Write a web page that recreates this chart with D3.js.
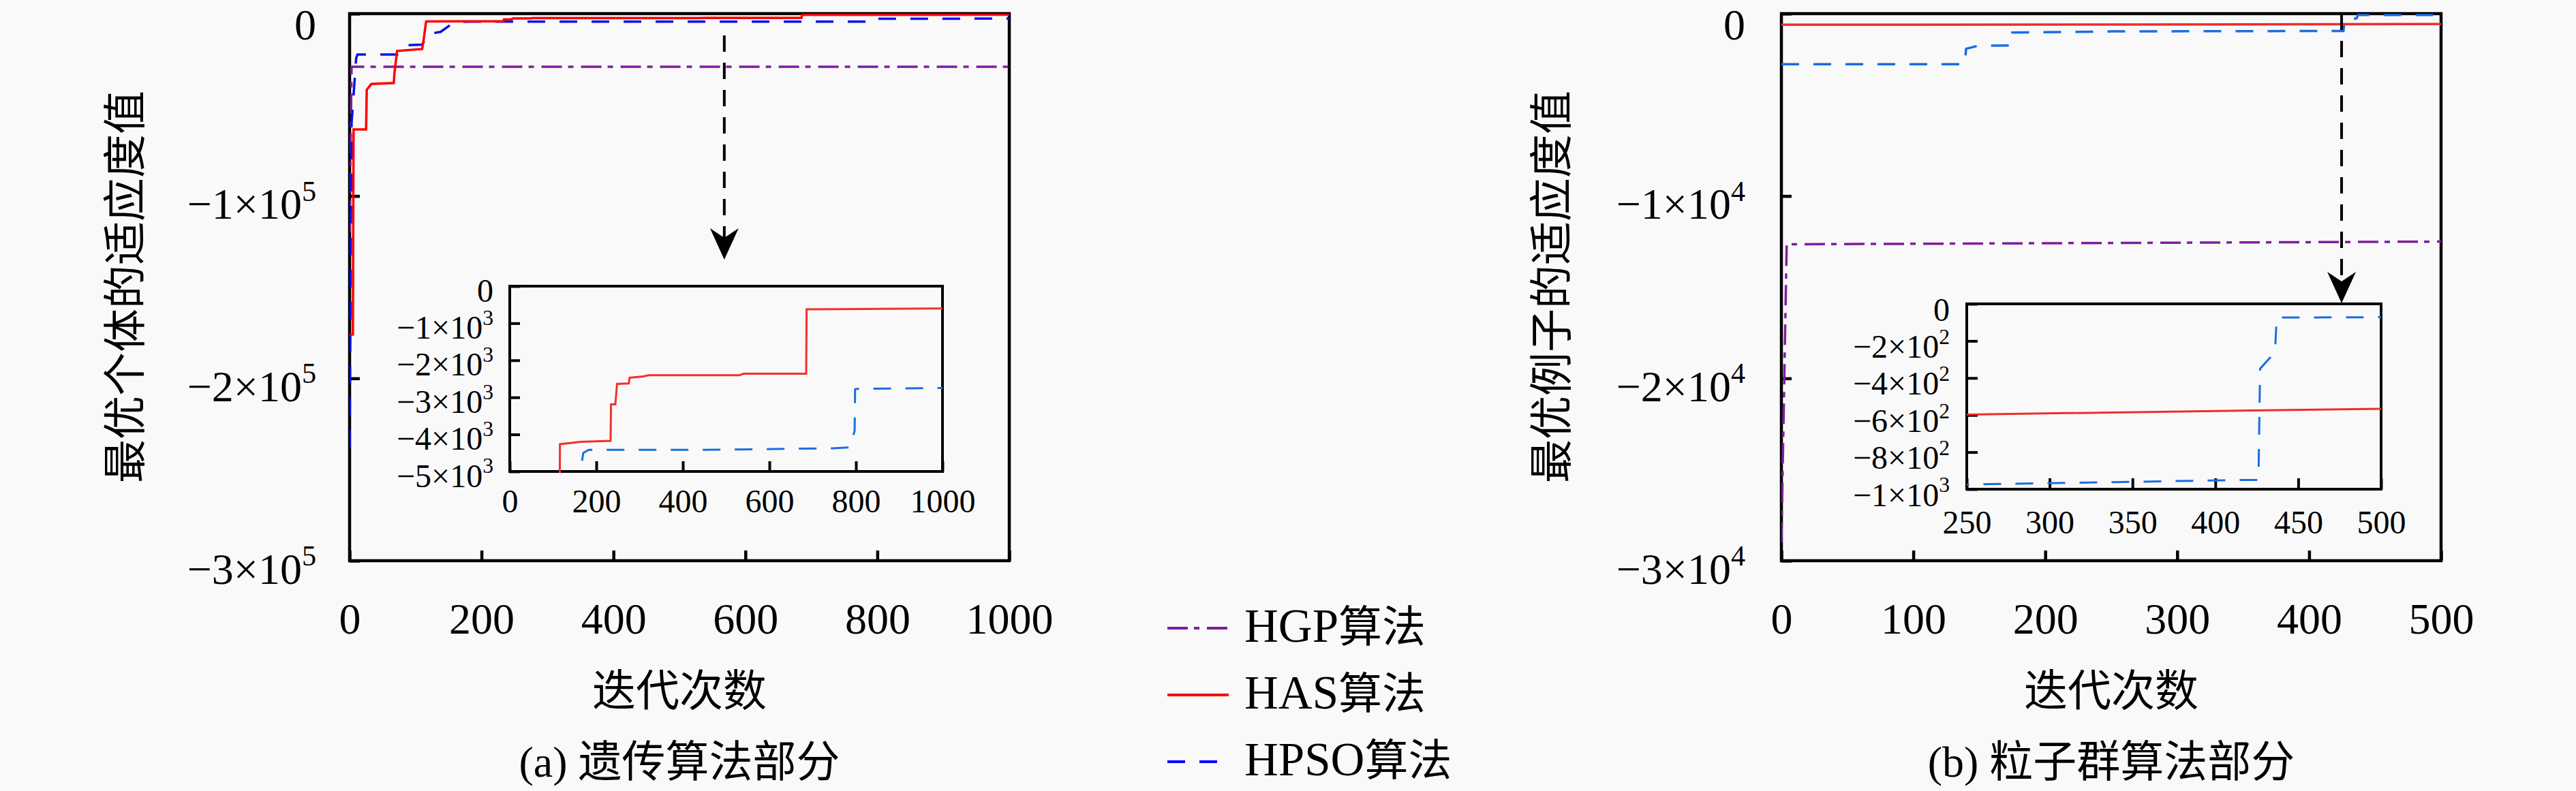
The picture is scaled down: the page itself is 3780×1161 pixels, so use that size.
<!DOCTYPE html>
<html>
<head>
<meta charset="utf-8">
<script src="https://cdn.jsdelivr.net/npm/d3@7"></script>
<style>
body { margin: 0; background: #f9f9f9; }
text { font-family: "Liberation Serif", "Noto Sans CJK SC", serif; fill: #000; }
</style>
</head>
<body>
<svg id="chart" width="3780" height="1161"></svg>
<script>
// ---- data: (a) genetic part, 1000 iterations
const iterHGP_A = [0, 3, 1000]
const fitHGP_A  = [-120000, -29100, -29100]
const iterHAS_A = [0, 5, 6, 25, 26, 33, 67, 68, 72, 110, 112, 116, 164, 233, 234, 244, 248, 275, 277, 309, 320, 530, 540, 685, 686, 863, 1000]
const fitHAS_A  = [-176000, -176000, -63500, -63500, -41700, -38600, -38000, -32500, -20500, -19400, -14900, -4264, -4202, -4172, -3190, -3190, -2638, -2625, -2472, -2436, -2405, -2405, -2362, -2362, -626, -613, -600]
const iterHPSO_A = [0, 3, 10, 12, 73, 88, 110, 119, 138, 155, 170, 183, 443, 748, 786, 797, 798, 800, 1000]
const fitHPSO_A  = [-238000, -60000, -24300, -22400, -22400, -17300, -17000, -11200, -10000, -5600, -4500, -4417, -4417, -4374, -4350, -3900, -2791, -2773, -2748]

// ---- data: (b) particle swarm part, 500 iterations
const iterHGP_B = [0, 4, 500]
const fitHGP_B  = [-29000, -12650, -12500]
const iterHAS_B = [0, 250, 500]
const fitHAS_B  = [-610, -597, -566]
const iterHPSO_B = [0, 139, 140, 149, 174, 175, 250, 418, 426, 427, 436, 437, 500]
const fitHPSO_B  = [-2776, -2776, -1930, -1760, -1745, -1035, -975, -950, -950, -350, -260, -74, -72]

// ---- ticks and labels
const xTicksA = [0, 200, 400, 600, 800, 1000]
const yTicksA = [0, -100000, -200000, -300000]
const xTicksInA = [0, 200, 400, 600, 800, 1000]
const yTicksInA = [0, -1000, -2000, -3000, -4000, -5000]
const xTicksB = [0, 100, 200, 300, 400, 500]
const yTicksB = [0, -10000, -20000, -30000]
const xTicksInB = [250, 300, 350, 400, 450, 500]
const yTicksInB = [0, -200, -400, -600, -800, -1000]

const seriesNames = ["HGP算法", "HAS算法", "HPSO算法"]
const xTitle = "迭代次数"
const yTitleA = "最优个体的适应度值"
const yTitleB = "最优例子的适应度值"
const captionA = "(a) 遗传算法部分"
const captionB = "(b) 粒子群算法部分"

// styles
const PURPLE = "#7e1e9c"
const DASHDOT = "30,9,8,11"
const DASH = "26,21"

const svg = d3.select("#chart")
const defs = svg.append("defs")
let clipId = 0

function expLabels(g, fs, zeroDy) {
    g.selectAll(".tick text").each(function(d) {
        const t = d3.select(this).text("")
        if (d === 0) {
            t.text("0")
            if (zeroDy != null) t.attr("dy", zeroDy + "em")
            return
        }
        const e = Math.floor(Math.log10(Math.abs(d)) + 1e-9)
        const m = Math.round(Math.abs(d) / Math.pow(10, e))
        t.append("tspan").text("\u2212" + m + "\u00d710")
        t.append("tspan").attr("font-size", fs * 0.66).attr("dy", -fs * 0.42).text(e)
    })
}

// one framed plot area (main or inset)
function plotBox(p) {
    const x = d3.scaleLinear().domain(p.xDom).range([p.x0, p.x1])
    const y = d3.scaleLinear().domain(p.yDom).range([p.y1, p.y0])
    const id = "clip" + (clipId++)
    defs.append("clipPath").attr("id", id)
        .append("rect").attr("x", p.x0).attr("y", p.y0).attr("width", p.x1 - p.x0).attr("height", p.y1 - p.y0 + 2)

    const gx = svg.append("g").attr("transform", `translate(0,${p.y1})`)
        .call(d3.axisBottom(x).tickValues(p.xTicks).tickSizeInner(-p.tick).tickSizeOuter(0).tickPadding(p.xPad))
    const gy = svg.append("g").attr("transform", `translate(${p.x0},0)`)
        .call(d3.axisLeft(y).tickValues(p.yTicks).tickSizeInner(-p.tick).tickSizeOuter(0).tickPadding(p.yPad))
    ;[gx, gy].forEach(g => {
        g.select(".domain").remove()
        g.selectAll(".tick line").attr("stroke", "#000").attr("stroke-width", p.fw)
        g.selectAll(".tick text").attr("font-size", p.fs)
    })
    gx.selectAll(".tick text").text(d => d)
    gy.selectAll(".tick text").attr("dy", p.yDy + "em")
    expLabels(gy, p.fs, p.zeroDy)

    svg.append("rect")
        .attr("x", p.x0).attr("y", p.y0).attr("width", p.x1 - p.x0).attr("height", p.y1 - p.y0)
        .attr("fill", "none").attr("stroke", "#000").attr("stroke-width", p.fw)

    // curves go on top of the frame, like in the original figure
    const line = d3.line().x(d => x(d[0])).y(d => y(d[1]))
    const lines = svg.append("g").attr("clip-path", "url(#" + id + ")")
    p.series.forEach(s => {
        lines.append("path")
            .datum(d3.zip(s.iter, s.fit))
            .attr("d", line)
            .attr("fill", "none")
            .attr("stroke", s.color)
            .attr("stroke-width", p.lw)
            .attr("stroke-dasharray", s.dash)
    })
    return { x, y }
}

function arrow(xp, yTop, yTip) {
    svg.append("line")
        .attr("x1", xp).attr("x2", xp).attr("y1", yTop).attr("y2", yTip - 30)
        .attr("stroke", "#000").attr("stroke-width", 4).attr("stroke-dasharray", "24,16")
    svg.append("path")
        .attr("d", `M${xp},${yTip} L${xp - 21},${yTip - 46} L${xp},${yTip - 32} L${xp + 21},${yTip - 46} Z`)
        .attr("fill", "#000")
}

function titles(cx, yAxisX, yTitle, caption) {
    svg.append("text").attr("x", cx).attr("y", 1036).attr("text-anchor", "middle")
        .attr("font-size", 64).text(xTitle)
    svg.append("text").attr("x", cx).attr("y", 1140).attr("text-anchor", "middle")
        .attr("font-size", 64).text(caption)
    svg.append("text").attr("transform", `translate(${yAxisX},421) rotate(-90)`)
        .attr("text-anchor", "middle").attr("dominant-baseline", "central")
        .attr("font-size", 64).text(yTitle)
}

// ---- panel (a)
const mainA = plotBox({
    x0: 513, x1: 1481, y0: 20, y1: 823, xDom: [0, 1000], yDom: [-300000, 0],
    xTicks: xTicksA, yTicks: yTicksA, tick: 15, xPad: 62, yPad: 49, yDy: 0.52, zeroDy: 0.58, fs: 64, fw: 4.5, lw: 3.5,
    series: [
        { iter: iterHGP_A, fit: fitHGP_A, color: PURPLE, dash: DASHDOT },
        { iter: iterHPSO_A, fit: fitHPSO_A, color: "#0a10ee", dash: DASH },
        { iter: iterHAS_A, fit: fitHAS_A, color: "#ff0000", dash: null }
    ]
})
plotBox({
    x0: 748, x1: 1383, y0: 420, y1: 692, xDom: [0, 1000], yDom: [-5000, 0],
    xTicks: xTicksInA, yTicks: yTicksInA, tick: 15, xPad: 26, yPad: 24, yDy: 0.46, fs: 48, fw: 4, lw: 3,
    series: [
        { iter: iterHPSO_A, fit: fitHPSO_A, color: "#1a6ee0", dash: DASH },
        { iter: iterHAS_A, fit: fitHAS_A, color: "#f2312a", dash: null }
    ]
})
arrow(mainA.x(568), mainA.y(-11950), 381)
titles(997, 184, yTitleA, captionA)

// ---- panel (b)
const mainB = plotBox({
    x0: 2614, x1: 3582, y0: 20, y1: 823, xDom: [0, 500], yDom: [-30000, 0],
    xTicks: xTicksB, yTicks: yTicksB, tick: 15, xPad: 62, yPad: 53, yDy: 0.52, zeroDy: 0.58, fs: 64, fw: 4.5, lw: 3.5,
    series: [
        { iter: iterHGP_B, fit: fitHGP_B, color: PURPLE, dash: DASHDOT },
        { iter: iterHPSO_B, fit: fitHPSO_B, color: "#1a6ee0", dash: DASH },
        { iter: iterHAS_B, fit: fitHAS_B, color: "#ee2c2c", dash: null }
    ]
})
plotBox({
    x0: 2886, x1: 3494, y0: 446, y1: 718, xDom: [250, 500], yDom: [-1000, 0],
    xTicks: xTicksInB, yTicks: yTicksInB, tick: 16, xPad: 31, yPad: 25, yDy: 0.5, fs: 48, fw: 4, lw: 3,
    series: [
        { iter: iterHPSO_B, fit: fitHPSO_B, color: "#1a6ee0", dash: DASH },
        { iter: iterHAS_B, fit: fitHAS_B, color: "#ee2c2c", dash: null }
    ]
})
arrow(mainB.x(424.6), mainB.y(0), 445)
titles(3098, 2277, yTitleB, captionB)

// ---- legend (middle)
const legColors = [PURPLE, "#ff0000", "#0000ff"]
const legDash = [DASHDOT, null, DASH]
const legY = d3.scalePoint().domain(seriesNames).range([922, 1118])
const leg = svg.append("g")
seriesNames.forEach((name, i) => {
    leg.append("line")
        .attr("x1", 1713).attr("x2", 1803).attr("y1", legY(name)).attr("y2", legY(name))
        .attr("stroke", legColors[i]).attr("stroke-width", 4).attr("stroke-dasharray", legDash[i])
    const t = leg.append("text").attr("x", 1826).attr("y", legY(name) + 20).attr("font-size", 64)
    t.append("tspan").attr("font-size", 69).text(name.replace("算法", ""))
    t.append("tspan").text("算法")
})
</script>
</body>
</html>
